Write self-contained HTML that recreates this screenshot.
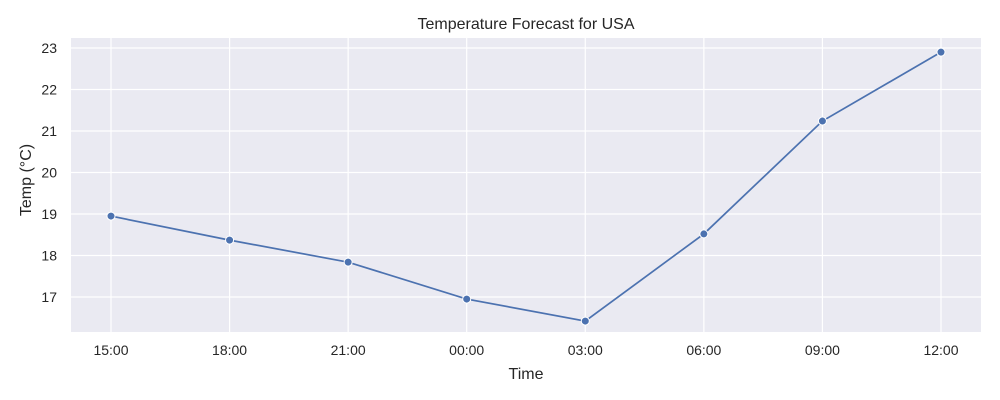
<!DOCTYPE html>
<html><head><meta charset="utf-8"><style>
body{margin:0;background:#fff;}
svg{display:block;font-family:"Liberation Sans","DejaVu Sans",sans-serif;}
</style></head><body>
<svg id="chart" width="1000" height="400">
<rect x="71" y="38" width="910" height="294" fill="#eaeaf2"/>
<g id="grid"></g><g id="ticks"></g><g id="series"></g>
<text x="526" y="29" text-anchor="middle" font-size="16" fill="#262626">Temperature Forecast for USA</text>
<text x="526" y="379" text-anchor="middle" font-size="16" fill="#262626">Time</text>
<text transform="translate(31,180) rotate(-90)" text-anchor="middle" font-size="16" fill="#262626">Temp (°C)</text>
</svg>
<script>
const categories=["15:00","18:00","21:00","00:00","03:00","06:00","09:00","12:00"];
const temps=[18.95,18.37,17.84,16.95,16.42,18.52,21.24,22.90];
const yTicks=[17,18,19,20,21,22,23];
const ns="http://www.w3.org/2000/svg";
const x0=111,xStep=118.57;
function xs(i){return x0+i*xStep;}
function ys(v){return 48+(23-v)*41.5;}
function mk(t,a,p){const e=document.createElementNS(ns,t);for(const k in a)e.setAttribute(k,a[k]);p.appendChild(e);return e;}
const grid=document.getElementById('grid'),ticks=document.getElementById('ticks'),series=document.getElementById('series');
yTicks.forEach(v=>{
 const l=mk('line',{x1:71,x2:981,y1:ys(v),y2:ys(v),stroke:'#fff','stroke-width':1.2},grid);
 
 
 const t=mk('text',{x:57,y:ys(v)+5,'text-anchor':'end','font-size':14,fill:'#262626'},ticks);
 t.textContent=v;
 
 
});
categories.forEach((c,i)=>{
 const l=mk('line',{x1:xs(i),x2:xs(i),y1:38,y2:332,stroke:'#fff','stroke-width':1.2},grid);
 
 
 const t=mk('text',{x:xs(i),y:355,'text-anchor':'middle','font-size':14,fill:'#262626'},ticks);
 t.textContent=c;
 
 
});
const pl=mk('polyline',{points:temps.map((v,i)=>xs(i)+','+ys(v)).join(' '),fill:'none',stroke:'#4c72b0','stroke-width':1.7},series);


temps.forEach((v,i)=>{
 const c=mk('circle',{cx:xs(i),cy:ys(v),r:4,fill:'#4c72b0',stroke:'#fff','stroke-width':1},series);
 
 
});
</script>
</body></html>
